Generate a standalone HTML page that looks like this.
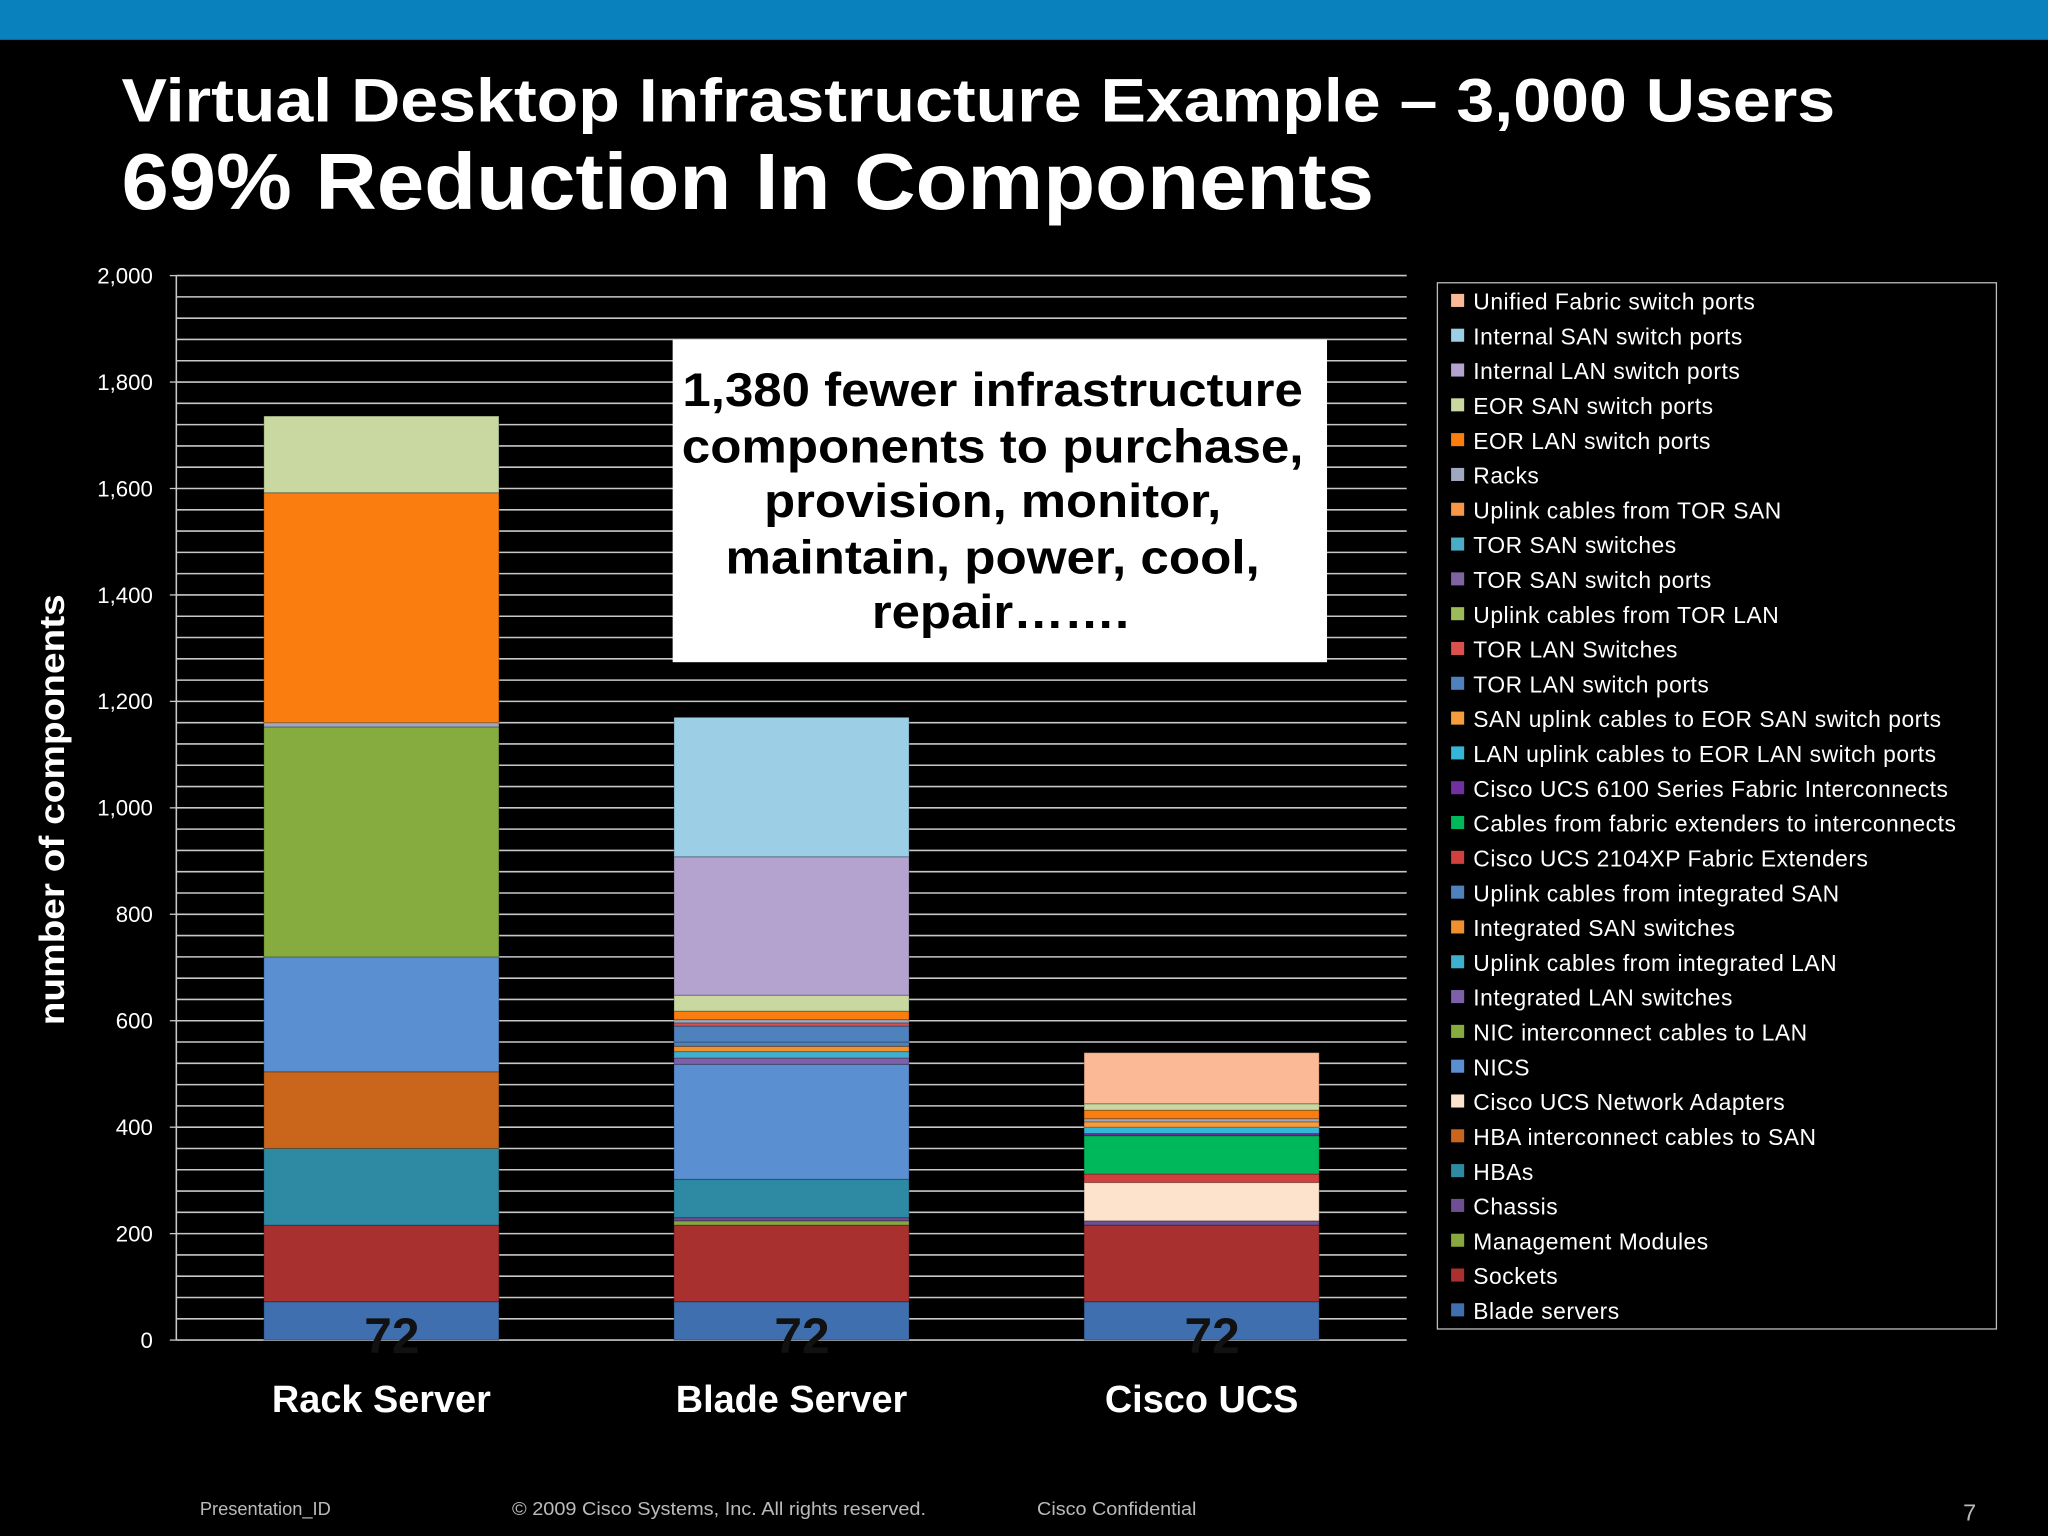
<!DOCTYPE html>
<html><head><meta charset="utf-8"><style>
html,body{margin:0;padding:0;background:#000;}
svg{display:block}
text{font-family:"Liberation Sans",sans-serif;}
</style></head><body>
<svg id="s" width="2048" height="1536" viewBox="0 0 1568 1176" xmlns="http://www.w3.org/2000/svg">
<rect x="0" y="0" width="1568" height="1176" fill="#000"/>
<rect x="0" y="0" width="1568" height="30.5" fill="#0881bd"/>
<text x="93" y="93" font-size="47" font-weight="bold" fill="#fff" textLength="1312" lengthAdjust="spacingAndGlyphs">Virtual Desktop Infrastructure Example – 3,000 Users</text>
<text x="93" y="160" font-size="61" font-weight="bold" fill="#fff" textLength="959" lengthAdjust="spacingAndGlyphs">69% Reduction In Components</text>
<g id="grid"></g>
<g id="yaxis"></g>
<text transform="translate(49,620) rotate(-90)" text-anchor="middle" font-size="27" font-weight="bold" fill="#fff" textLength="330" lengthAdjust="spacingAndGlyphs">number of components</text>
<g id="bars"></g>
<g id="xaxis"></g>
<g>
<rect x="515" y="260" width="501" height="247" fill="#fff"/>
<text x="760" y="311" text-anchor="middle" font-size="36" font-weight="bold" fill="#000" textLength="475" lengthAdjust="spacingAndGlyphs">1,380 fewer infrastructure</text>
<text x="760" y="354" text-anchor="middle" font-size="36" font-weight="bold" fill="#000" textLength="476" lengthAdjust="spacingAndGlyphs">components to purchase,</text>
<text x="760" y="396" text-anchor="middle" font-size="36" font-weight="bold" fill="#000" textLength="350" lengthAdjust="spacingAndGlyphs">provision, monitor,</text>
<text x="760" y="439" text-anchor="middle" font-size="36" font-weight="bold" fill="#000" textLength="409" lengthAdjust="spacingAndGlyphs">maintain, power, cool,</text>
<text x="766" y="481" text-anchor="middle" font-size="36" font-weight="bold" fill="#000" textLength="197" lengthAdjust="spacingAndGlyphs">repair…….</text>
</g>
<rect x="1100.5" y="216.5" width="428" height="801" fill="none" stroke="#bbb" stroke-width="1"/>
<g id="legend"></g>
<g font-size="14" fill="#bbb">
<text x="153" y="1160">Presentation_ID</text>
<text x="392" y="1160" textLength="317" lengthAdjust="spacingAndGlyphs">© 2009 Cisco Systems, Inc. All rights reserved.</text>
<text x="794" y="1160" textLength="122" lengthAdjust="spacingAndGlyphs">Cisco Confidential</text>
<text x="1503" y="1164" font-size="18">7</text>
</g>
</svg>
<script>
const categories = ["Rack Server","Blade Server","Cisco UCS"];
const seriesNames = ["Blade servers","Sockets","Management Modules","Chassis","HBAs","HBA interconnect cables to SAN","Cisco UCS Network Adapters","NICS","NIC interconnect cables to LAN","Integrated LAN switches","Uplink cables from integrated LAN","Integrated  SAN switches","Uplink cables from integrated SAN","Cisco UCS 2104XP Fabric Extenders","Cables from fabric extenders to interconnects","Cisco UCS 6100 Series Fabric Interconnects","LAN uplink cables to EOR LAN switch ports","SAN uplink cables to EOR SAN switch ports","TOR LAN switch ports","TOR LAN Switches","Uplink cables from TOR LAN","TOR SAN switch ports","TOR SAN switches","Uplink cables from TOR SAN","Racks","EOR LAN switch ports","EOR SAN switch ports","Internal LAN switch ports","Internal SAN switch ports","Unified Fabric switch ports"];
const rackValues  = [72,144,0,0,144,144,0,216,432,0,0,0,0,0,0,0,0,0,0,0,0,0,0,0,8,432,144,0,0,0];
const bladeValues = [72,144,8,6,72,0,0,216,0,12,12,10,8,0,0,0,0,0,30,6,0,0,0,0,6,16,30,260,262,0];
const ucsValues   = [72,144,0,8,0,0,72,0,0,0,0,0,0,16,72,4,12,10,0,0,0,0,0,0,6,16,12,0,0,96];
const yTicks = [0,200,400,600,800,1000,1200,1400,1600,1800,2000];
const yTickLabels = ["0","200","400","600","800","1,000","1,200","1,400","1,600","1,800","2,000"];
const barLabels = ["72","72","72"];
const colors = ["#3f6fae","#a8302e","#86a83f","#6e4f94","#2e8aa3","#c9661c","#fde3cc","#5a8fd2","#86ac40","#7d60a8","#3fb0cc","#f0912e","#4f81bd","#d0403d","#00b85c","#7030a0","#34b6d6","#f59d3d","#4f81bd","#d9504d","#9bbb59","#8064a2","#4bacc6","#f79646","#a0a8c0","#fa7d10","#c8d8a0","#b5a3cf","#9ccfe6","#fbb995"];

const NS="http://www.w3.org/2000/svg";
const X0=135,X1=1077,Y0=1026,Y1=211,MAX=2000;
const y=v=>Y0-(v/MAX)*(Y0-Y1);
const bandW=(X1-X0)/categories.length;
const xc=i=>X0+bandW*(i+0.5);
const BW=180;
function mk(tag,attrs,parent){const e=document.createElementNS(NS,tag);for(const k in attrs)e.setAttribute(k,attrs[k]);parent.appendChild(e);return e;}
const grid=document.getElementById('grid');
for(let v=0;v<=MAX;v+=40){
  const l=mk('line',{x1:X0,x2:X1,y1:y(v),y2:y(v),stroke:'#c8c8c8','stroke-width':1.2},grid);
  
  
}
const ya=document.getElementById('yaxis');
mk('line',{x1:X0,x2:X0,y1:Y1,y2:Y0,stroke:'#c8c8c8','stroke-width':1.2},ya);
yTicks.forEach((t,i)=>{
  mk('line',{x1:X0-5,x2:X0,y1:y(t),y2:y(t),stroke:'#c8c8c8'},ya);
  const tx=mk('text',{x:117,y:y(t)+6,'text-anchor':'end','font-size':17,fill:'#fff'},ya);
  tx.textContent=yTickLabels[i];
  
  
});
const bars=document.getElementById('bars');
const all=[rackValues,bladeValues,ucsValues];
all.forEach((vals,ci)=>{
  let acc=0;const cx=xc(ci);
  vals.forEach((v,si)=>{
    if(v<=0)return;
    const r=mk('rect',{x:cx-BW/2,y:y(acc+v),width:BW,height:y(acc)-y(acc+v),fill:colors[si],stroke:'rgba(0,0,0,0.25)','stroke-width':0.8},bars);
    
    
    acc+=v;
  });
  const t=mk('text',{x:cx+8,y:1036,'text-anchor':'middle','font-size':38,fill:'#111','font-weight':'bold'},bars);
  t.textContent=barLabels[ci];
  
  
  const c=mk('text',{x:cx,y:1081,'text-anchor':'middle','font-size':29,'font-weight':'bold',fill:'#fff'},document.getElementById('xaxis'));
  c.textContent=categories[ci];
  
  
});
const lg=document.getElementById('legend');
for(let k=0;k<seriesNames.length;k++){
  const si=seriesNames.length-1-k;
  const yy=231+k*26.65;
  const g=mk('g',{},lg);
  
  
  mk('rect',{x:1111,y:yy-6,width:10,height:10,fill:colors[si]},g);
  const t=mk('text',{x:1128,y:yy+6,'font-size':17.5,fill:'#fff','letter-spacing':0.4},g);
  t.textContent=seriesNames[si];
}
</script>
</body></html>
